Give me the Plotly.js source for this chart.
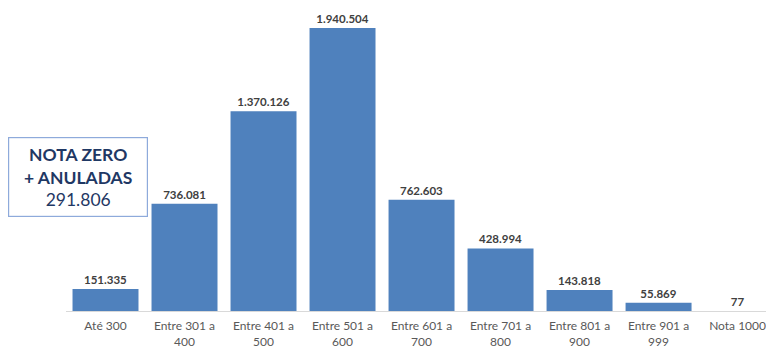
<!DOCTYPE html>
<html><head><meta charset="utf-8">
<script src="https://cdn.plot.ly/plotly-3.0.1.min.js"></script>
<style>body{margin:0;background:#fff}#c{width:766px;height:350px}</style>
</head><body><div id="c"></div>
<script>
const categories = ["Até 300","Entre 301 a<br>400","Entre 401 a<br>500","Entre 501 a<br>600","Entre 601 a<br>700","Entre 701 a<br>800","Entre 801 a<br>900","Entre 901 a<br>999","Nota 1000"];
const values = [151335, 736081, 1370126, 1940504, 762603, 428994, 143818, 55869, 77];
const zeroLabel = ["NOTA ZERO", "+ ANULADAS"];
const zeroValue = 291806;

function fmt(n){ return String(n).replace(/\B(?=(\d{3})+(?!\d))/g, "."); }

const trace = {
  type: "bar",
  x: categories.map((c,i)=>i),
  y: values,
  text: values.map(fmt),
  textposition: "outside",
  cliponaxis: false,
  textfont: {family: "Lato, 'Open Sans', sans-serif", size: 11.5, color: "#404040"},
  texttemplate: "<b>%{text}</b>",
  marker: {color: "#4f81bd"},
  hoverinfo: "none"
};

const layout = {
  width: 766, height: 350,
  margin: {l: 66, r: 0, t: 0, b: 39},
  paper_bgcolor: "#fff", plot_bgcolor: "#fff",
  bargap: 0.165,
  showlegend: false,
  font: {family: "Lato, 'Open Sans', sans-serif"},
  xaxis: {
    range: [-0.5, 8.36],
    tickmode: "array",
    tickvals: categories.map((c,i)=>i),
    ticktext: categories,
    tickfont: {size: 12, color: "#595959"},
    ticklabeloverflow: "allow",
    ticklabelstandoff: 4,
    showline: true, linecolor: "#d9d9d9", linewidth: 1,
    ticks: "", showgrid: false, zeroline: false, fixedrange: true
  },
  yaxis: {
    range: [0, 2132000],
    visible: false, showgrid: false, zeroline: false, fixedrange: true
  },
  annotations: [{
    xref: "x", yref: "y",
    x: -0.35, y: 918000,
    text: "<b>" + zeroLabel[0] + "</b><br><b>" + zeroLabel[1] + "</b><br>" + fmt(zeroValue),
    showarrow: false,
    font: {size: 17.5, color: "#1f3864", family: "Lato, 'Open Sans', sans-serif"},
    align: "center",
    bordercolor: "#8eaadb", borderwidth: 1.2, borderpad: 5,
    width: 128, height: 68,
    bgcolor: "#fff"
  }]
};

Plotly.newPlot("c", [trace], layout, {staticPlot: true, displayModeBar: false});
</script></body></html>
